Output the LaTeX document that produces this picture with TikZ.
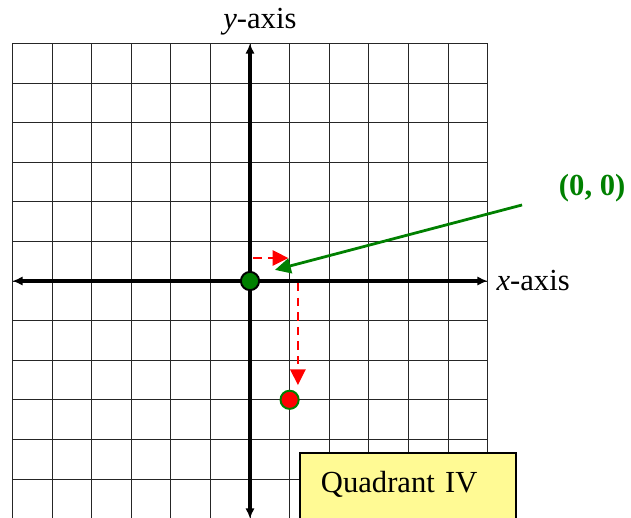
\documentclass[tikz,border=0pt]{standalone}
\usepackage{fontspec}
\setmainfont{Liberation Serif}
\usepackage{tikz}
\usetikzlibrary{arrows.meta,positioning,calc}

\begin{document}
\begin{tikzpicture}[
  gridline/.style={black!85, line width=0.6pt},
  axis/.style={{Latex[length=2.6mm,width=2.4mm]}-{Latex[length=2.6mm,width=2.4mm]}, line width=2.2pt},
  label/.style={font=\fontsize{22}{26}\selectfont, inner sep=0pt},
  pointer/.style={-{Triangle[length=4mm,width=3.8mm]}, draw=green!50!black, line width=2pt},
  move/.style={-{Triangle[length=4mm,width=3.8mm]}, draw=red, line width=2pt, dash pattern=on 6pt off 4.5pt},
  dot/.style={circle, minimum size=0.46cm, inner sep=0pt, line width=1.4pt},
  quadbox/.style={draw, fill=yellow!42, line width=1.2pt, anchor=north west, text width=4.4cm, inner xsep=0.53cm, inner ysep=0pt, align=left, text height=1.0cm, text depth=1.6cm, font=\fontsize{22}{26}\selectfont},
]
  \useasboundingbox (-6.313,-5.96) rectangle (9.621,7.096);

  % grid and axes
  \draw[gridline] (-6,-7) grid (6,6);
  \draw[axis] (-6,0) -- (6,0);
  \draw[axis] (0,-6) -- (0,6);

  \node[label, anchor=west] (xlab) at (6.22,0) {\textit{x}-axis};
  \node[label, anchor=south] (ylab) at (0.25,6.2) {\textit{y}-axis};

  % points
  \node[dot, draw=black, fill=green!50!black] (origin) at (0,0) {};
  \node[dot, draw=green!50!black, fill=red] (pt) at (1,-3) {};

  % callout
  \node[label, text=green!50!black, font=\fontsize{22}{26}\selectfont\bfseries] (zero) at (8.64,2.35) {(0, 0)};
  \coordinate (tail) at (6.87,1.92);
  \coordinate (head) at (0.63,0.28);
  \draw[pointer] (tail) -- (head);

  % moves
  \coordinate (r0) at (0.08,0.58);
  \coordinate (r1) at (0.97,0.58);
  \coordinate (d0) at (1.21,-0.05);
  \coordinate (d1) at (1.21,-2.63);
  \draw[move] (r0) -- (r1);
  \draw[move] (d0) -- (d1);

  \node[quadbox] (quad) at (1.24,-4.32) {Quadrant IV};
\end{tikzpicture}
\end{document}
